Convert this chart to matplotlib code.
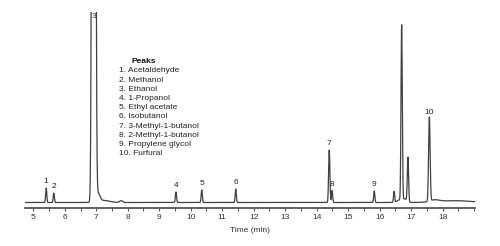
import numpy as np
import matplotlib
matplotlib.use("Agg")
import matplotlib.pyplot as plt
from matplotlib.ticker import MultipleLocator

plt.rcParams['font.family'] = ['Liberation Sans', 'DejaVu Sans']

# Peak table (time in min, height in arbitrary units, width sigma in min)
peak_times   = [5.41, 5.65, 6.92, 7.79, 9.53, 10.35, 11.43, 14.40, 14.49, 15.83, 16.46, 16.70, 16.90, 17.58]
peak_heights = [14.5, 9.5, 3000.0, 1.8, 10.5, 12.5, 13.5, 52.5, 12.0, 11.5, 11.0, 175.5, 44.5, 84.0]
peak_sigmas  = [0.018, 0.018, 0.036, 0.05, 0.018, 0.018, 0.018, 0.02, 0.018, 0.018, 0.018, 0.02, 0.02, 0.024]
peak_labels  = ['1', '2', '3', '', '4', '5', '6', '7', '8', '9', '', '', '', '10']

# broad baseline features (tailing / drift)
drift_times   = [7.06, 7.25, 16.62, 16.80, 17.75, 18.4]
drift_heights = [8.0, 2.0, 2.5, 3.5, 2.0, 1.8]
drift_sigmas  = [0.06, 0.18, 0.07, 0.06, 0.15, 0.5]

tick_values = [5, 6, 7, 8, 9, 10, 11, 12, 13, 14, 15, 16, 17, 18]

legend_title = "Peaks"
compounds = ["Acetaldehyde", "Methanol", "Ethanol", "1-Propanol", "Ethyl acetate",
             "Isobutanol", "3-Methyl-1-butanol", "2-Methyl-1-butanol",
             "Propylene glycol", "Furfural"]

x_min, x_max = 4.736, 19.03
y_min, y_max = -5.5, 190.5

t = np.linspace(x_min, x_max, 8000)
signal = np.zeros_like(t)
for c, h, s in zip(peak_times + drift_times, peak_heights + drift_heights, peak_sigmas + drift_sigmas):
    signal += h * np.exp(-0.5 * ((t - c) / s) ** 2)

fig = plt.figure(figsize=(5.0, 2.46), dpi=100)
W, H = 500, 246
ax = fig.add_axes([25 / W, (H - 208) / H, 450 / W, (208 - 12) / H])
ax.plot(t, signal, color='#404040', lw=0.9, clip_on=True)
ax.set_xlim(x_min, x_max)
ax.set_ylim(y_min, y_max)

for side in ['left', 'top', 'right']:
    ax.spines[side].set_visible(False)
ax.spines['bottom'].set_color('#555555')
ax.spines['bottom'].set_linewidth(1.3)
ax.set_yticks([])
ax.set_xticks(tick_values)
ax.set_xticklabels([str(v) for v in tick_values])
ax.xaxis.set_minor_locator(MultipleLocator(0.5))
ax.tick_params(axis='x', which='major', length=2.5, width=0.8, color='#555555',
               labelsize=6, labelcolor='#333333', pad=1.5)
ax.tick_params(axis='x', which='minor', length=1.8, width=0.7, color='#555555')
ax.set_xlabel('Time (min)', fontsize=6, color='#333333', labelpad=5)

for c, h, lab in zip(peak_times, peak_heights, peak_labels):
    if not lab:
        continue
    if h > y_max:
        ax.text(c, y_max - 1, lab, ha='center', va='top', fontsize=6, color='#333333')
    else:
        ax.annotate(lab, (c, h), xytext=(0, 2), textcoords='offset points',
                    ha='center', va='bottom', fontsize=6, color='#222222')

fig.text(131 / W, 1 - 62 / H, legend_title, fontsize=6, fontweight='bold', color='#111111',
         ha='left', va='center')
for i, name in enumerate(compounds):
    fig.text(119 / W, 1 - (71 + 9.2 * i) / H, f"{i + 1}. {name}", fontsize=6, color='#222222',
             ha='left', va='center')

fig.savefig('out.png', dpi=100)
